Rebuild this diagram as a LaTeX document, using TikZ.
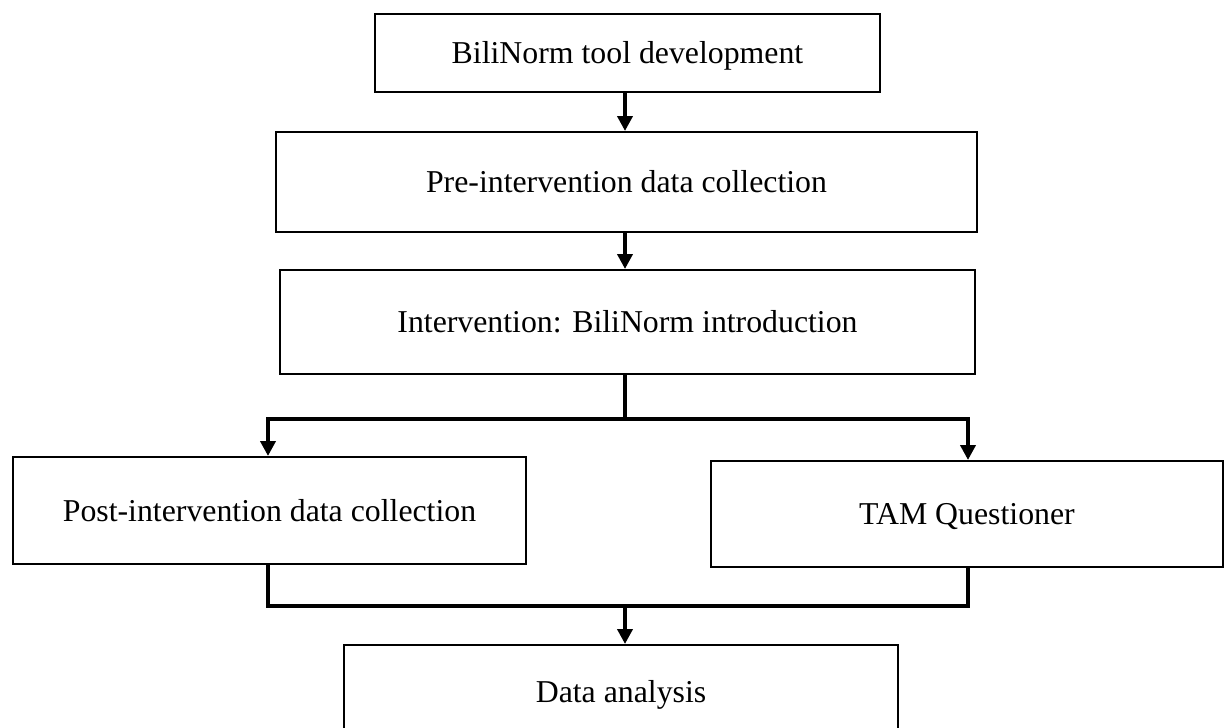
\documentclass[tikz,border=0pt]{standalone}
\usepackage{fontspec}
\setmainfont{Liberation Serif}
\usetikzlibrary{arrows.meta}
\begin{document}
\begin{tikzpicture}[x=1pt,y=-1pt,
  box/.style={draw=black,line width=2pt,fill=white,inner sep=0pt,
    text height=21pt,text depth=0pt,
    font=\fontsize{31.8}{36}\selectfont},
  conn/.style={line width=4pt,line join=miter,line cap=rect},
  arr/.style={line width=4pt,line join=miter,-{Triangle[width=15pt,length=15pt]}}]
\useasboundingbox (0,0) rectangle (1227,728);
\clip (0,0) rectangle (1227,728);
\fill[white] (0,0) rectangle (1227,728);

\node[box,minimum width=505pt,minimum height=78pt,text depth=-7pt] (b1) at (627.5,53) {BiliNorm tool development};
\node[box,minimum width=701pt,minimum height=100pt] (b2) at (626.5,182) {Pre-intervention data collection};
\node[box,minimum width=695pt,minimum height=104pt] (b3) at (627.5,322) {Intervention: BiliNorm introduction};
\node[box,minimum width=513pt,minimum height=107pt] (b4) at (269.5,510.5) {Post-intervention data collection};
\node[box,minimum width=512pt,minimum height=106pt] (b5) at (967,514) {TAM Questioner};
\node[box,minimum width=554pt,anchor=north,text height=57pt,text depth=44pt] (b6) at (621,644) {Data analysis};

\coordinate (j1) at (625,419);
\coordinate (jl) at (268,419);
\coordinate (jr) at (968,419);
\coordinate (k) at (625,606);
\coordinate (kl) at (268,606);
\coordinate (kr) at (968,606);

\draw[arr] (b1.south -| j1) -- (b2.north -| j1);
\draw[arr] (b2.south -| j1) -- (b3.north -| j1);
\draw[conn,line cap=butt] (b3.south -| j1) -- (j1);
\draw[conn] (jl) -- (jr);
\draw[arr] (jl) -- (jl |- b4.north);
\draw[arr] (jr) -- (jr |- b5.north);
\draw[conn] (kl |- b4.south) -- (kl) -- (kr) -- (kr |- b5.south);
\draw[arr] (k) -- (k |- b6.north);
\end{tikzpicture}
\end{document}
